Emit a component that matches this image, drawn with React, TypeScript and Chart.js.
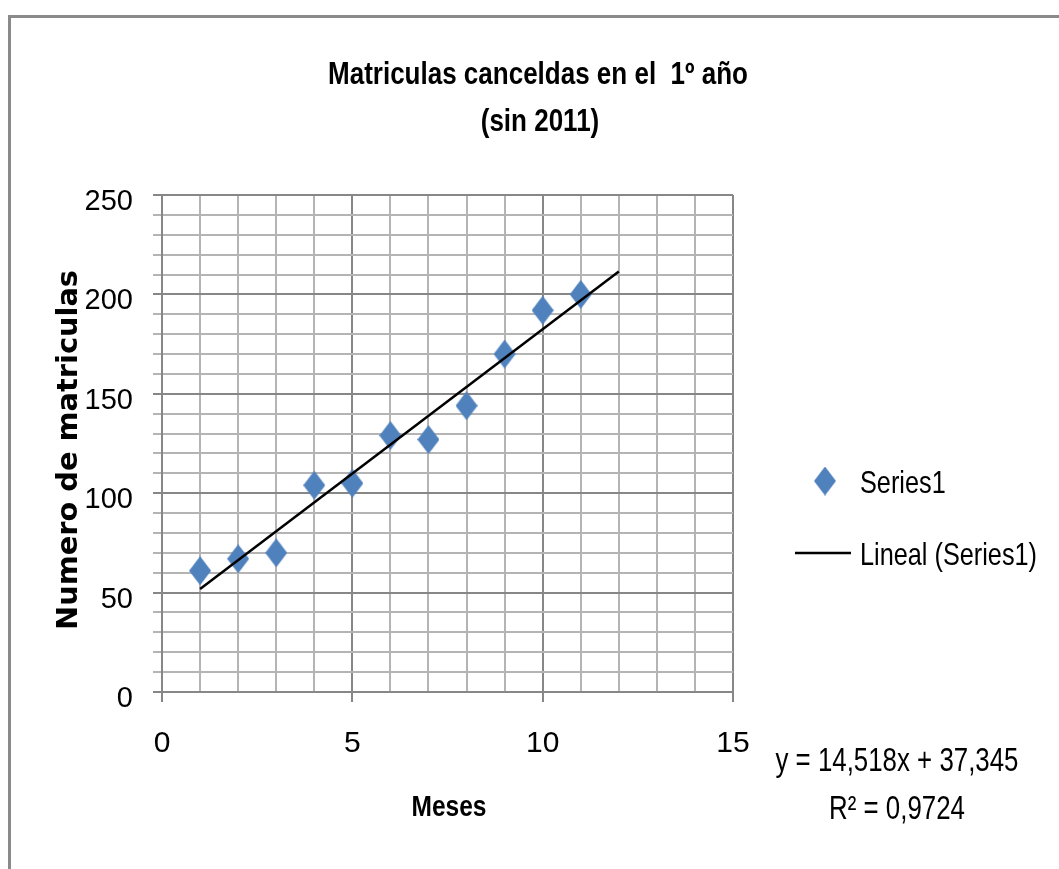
import { useEffect, useRef } from 'react';
import { Chart, registerables } from 'chart.js';

Chart.register(...registerables);

// ---- data ----
const MONTHS = [1, 2, 3, 4, 5, 6, 7, 8, 9, 10, 11];
const CANCELLED = [61, 67, 70, 104, 105, 129, 127, 144, 170, 192, 200];
const TREND_X = [1, 12];
const SERIES_LABEL = 'Series1';
const TREND_LABEL = 'Lineal (Series1)';
const TITLE_LINES = ['Matriculas canceldas en el  1º año', '(sin 2011)'];
const X_TITLE = 'Meses';
const Y_TITLE = 'Numero de matriculas';
const EQUATION_LINES = ['y = 14,518x + 37,345', 'R² = 0,9724'];
const X_TICK_LABELS = [0, 5, 10, 15];
const Y_TICK_LABELS = [0, 50, 100, 150, 200, 250];

// ---- styles ----
const SANS = '"Liberation Sans", Arial, sans-serif';
const WIDE = '"DejaVu Sans", Verdana, sans-serif';
const BLUE = '#4F81BD';
const MAJOR = '#878787';
const MINOR = '#b4b4b4';

function linearFit(xs: number[], ys: number[]) {
  const n = xs.length;
  const mx = xs.reduce((a, b) => a + b, 0) / n;
  const my = ys.reduce((a, b) => a + b, 0) / n;
  let sxy = 0, sxx = 0;
  for (let i = 0; i < n; i++) {
    sxy += (xs[i] - mx) * (ys[i] - my);
    sxx += (xs[i] - mx) * (xs[i] - mx);
  }
  const slope = sxy / sxx;
  return { slope, intercept: my - slope * mx };
}

function makeDiamond(w: number, h: number, color: string) {
  const c = document.createElement('canvas');
  c.width = w;
  c.height = h;
  const g = c.getContext('2d')!;
  g.fillStyle = color;
  g.beginPath();
  g.moveTo(w / 2, 0);
  g.lineTo(w, h / 2);
  g.lineTo(w / 2, h);
  g.lineTo(0, h / 2);
  g.closePath();
  g.fill();
  return c;
}

// the reference uses a condensed face: draw text with a horizontal squeeze factor
function squeezedText(
  ctx: CanvasRenderingContext2D,
  text: string,
  x: number,
  y: number,
  font: string,
  sx: number,
  align: CanvasTextAlign,
) {
  ctx.save();
  ctx.font = font;
  ctx.translate(x, y);
  ctx.scale(sx, 1);
  ctx.textAlign = align;
  ctx.textBaseline = 'alphabetic';
  ctx.fillText(text, 0, 0);
  ctx.restore();
}

function widthOf(ctx: CanvasRenderingContext2D, text: string, font: string) {
  ctx.save();
  ctx.font = font;
  const w = ctx.measureText(text).width;
  ctx.restore();
  return w;
}

export default function App() {
  const ref = useRef<HTMLCanvasElement | null>(null);

  useEffect(() => {
    const canvas = ref.current!;
    const diamond = makeDiamond(22, 29, BLUE);
    const fit = linearFit(MONTHS, CANCELLED);

    const decorations = {
      id: 'decorations',
      beforeDraw(chart: any) {
        const ctx = chart.ctx;
        ctx.save();
        ctx.fillStyle = '#8a8a8a';
        ctx.fillRect(8, 15, 3, 900);
        ctx.fillRect(8, 15, 1100, 3);
        ctx.restore();
      },
      afterDraw(chart: any) {
        const ctx: CanvasRenderingContext2D = chart.ctx;
        ctx.save();
        ctx.fillStyle = '#000';
        // title
        const titleFont = `bold 31px ${SANS}`;
        const tsx = 420 / widthOf(ctx, TITLE_LINES[0], titleFont);
        squeezedText(ctx, TITLE_LINES[0], 538, 84, titleFont, tsx, 'center');
        squeezedText(ctx, TITLE_LINES[1], 540, 131, titleFont, tsx, 'center');
        // x title
        const xtFont = `bold 30px ${SANS}`;
        squeezedText(ctx, X_TITLE, 449, 816, xtFont, 75 / widthOf(ctx, X_TITLE, xtFont), 'center');
        // y title
        ctx.save();
        ctx.translate(77, 450);
        ctx.rotate(-Math.PI / 2);
        const ytFont = `bold 28px ${WIDE}`;
        squeezedText(ctx, Y_TITLE, 0, 0, ytFont, 360 / widthOf(ctx, Y_TITLE, ytFont), 'center');
        ctx.restore();
        // legend
        const ds = chart.data.datasets;
        const legFont = `32px ${SANS}`;
        const lsx = 177 / widthOf(ctx, ds[0].label, legFont);
        ctx.drawImage(diamond, 825 - 11, 481 - 14.5);
        squeezedText(ctx, ds[1].label, 860, 493, legFont, lsx, 'left');
        ctx.strokeStyle = '#000';
        ctx.lineWidth = 2.5;
        ctx.beginPath();
        ctx.moveTo(795, 553);
        ctx.lineTo(851, 553);
        ctx.stroke();
        squeezedText(ctx, ds[0].label, 860, 565, legFont, lsx, 'left');
        // equation
        const eqFont = `33px ${SANS}`;
        const esx = 243 / widthOf(ctx, EQUATION_LINES[0], eqFont);
        squeezedText(ctx, EQUATION_LINES[0], 897, 771, eqFont, esx, 'center');
        squeezedText(ctx, EQUATION_LINES[1], 897, 819, eqFont, esx, 'center');
        ctx.restore();
      },
    };

    const isMajorY = (v: number) => Y_TICK_LABELS.includes(v);
    const isMajorX = (v: number) => X_TICK_LABELS.includes(v);

    const padding = { left: 88, top: 180, right: 326, bottom: 100 };

    const chart = new Chart(canvas, {
      type: 'scatter',
      data: {
        datasets: [
          {
            label: TREND_LABEL,
            data: TREND_X.map((x) => ({ x, y: fit.intercept + fit.slope * x })),
            showLine: true,
            borderColor: '#000',
            borderWidth: 2.5,
            pointRadius: 0,
            order: 0,
          } as any,
          {
            label: SERIES_LABEL,
            data: MONTHS.map((x, i) => ({ x, y: CANCELLED[i] })),
            pointStyle: diamond,
            backgroundColor: BLUE,
            borderColor: BLUE,
            order: 1,
          } as any,
        ],
      },
      options: {
        responsive: false,
        animation: false,
        devicePixelRatio: 1,
        layout: { padding: { ...padding } },
        plugins: {
          legend: { display: false },
          tooltip: { enabled: false },
          title: { display: false },
        },
        scales: {
          x: {
            type: 'linear',
            min: 0,
            max: 15,
            ticks: {
              stepSize: 1,
              autoSkip: false,
              maxRotation: 0,
              padding: 24,
              color: '#000',
              font: { family: SANS, size: 30 },
              callback: (v: any) => (isMajorX(Number(v)) ? String(v) : ''),
            },
            grid: {
              color: (c: any) => (isMajorX(c.tick?.value) ? MAJOR : MINOR),
              tickColor: (c: any) => (isMajorX(c.tick?.value) ? MAJOR : 'rgba(0,0,0,0)'),
              lineWidth: 2,
              tickLength: 10,
            },
            border: { display: true, color: MAJOR, width: 2 },
          },
          y: {
            type: 'linear',
            min: 0,
            max: 250,
            ticks: {
              stepSize: 10,
              autoSkip: false,
              padding: 20,
              labelOffset: 7,
              color: '#000',
              font: { family: SANS, size: 29 },
              callback: (v: any) => (isMajorY(Number(v)) ? String(v) : ''),
            },
            grid: {
              color: (c: any) => (isMajorY(c.tick?.value) ? MAJOR : MINOR),
              lineWidth: 2,
              tickLength: 9,
            },
            border: { display: true, color: MAJOR, width: 2 },
          },
        },
      },
      plugins: [decorations],
    } as any);

    const target = { left: 162, top: 195, right: 733, bottom: 692 };
    for (let i = 0; i < 3; i++) {
      const a = chart.chartArea;
      padding.left += target.left - a.left;
      padding.top += target.top - a.top;
      padding.right += a.right - target.right;
      padding.bottom += a.bottom - target.bottom;
      (chart.options as any).layout = { padding: { ...padding } };
      chart.update();
    }

    return () => chart.destroy();
  }, []);

  return (
    <div style={{ position: 'fixed', left: 0, top: 0, width: 1059, height: 869, background: '#fff' }}>
      <canvas ref={ref} width={1059} height={869} style={{ display: 'block', width: 1059, height: 869 }} />
    </div>
  );
}
